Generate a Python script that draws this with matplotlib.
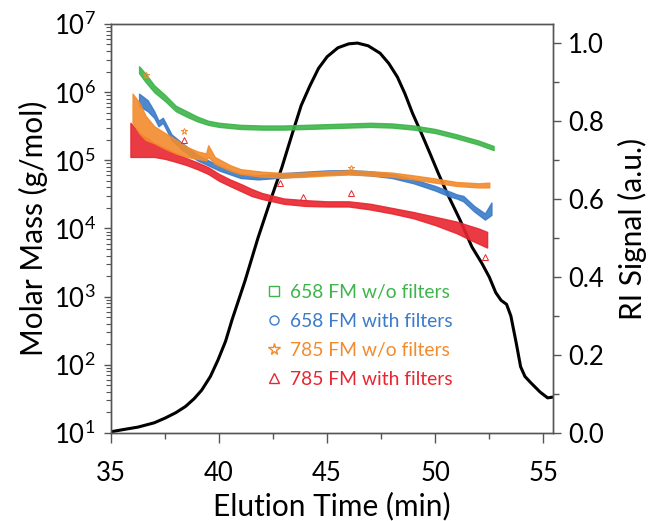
import numpy as np
import matplotlib
matplotlib.use("Agg")
from matplotlib import pyplot as plt
from matplotlib.lines import Line2D
from matplotlib.ticker import LogLocator, MultipleLocator, FixedLocator

plt.rcParams['font.family'] = ['Lato', 'DejaVu Sans']
plt.rcParams['mathtext.fontset'] = 'custom'
plt.rcParams['mathtext.rm'] = 'Lato'

# RI trace (right axis)
t_ri = [35.0, 35.5, 36.25, 37.0, 37.5, 38.0, 38.45, 38.85, 39.2, 39.6, 39.95, 40.3,
        40.6, 41.2, 41.8, 42.4, 42.9, 43.4, 43.8, 44.2, 44.6, 45.0, 45.5, 46.0, 46.4,
        46.9, 47.45, 47.85, 48.25, 48.6, 48.95, 49.35, 49.75, 50.15, 50.55, 51.15,
        51.7, 52.15, 52.5, 52.8, 53.05, 53.3, 53.5, 53.75, 53.95, 54.15, 54.4, 54.85,
        55.2, 55.45]
ri = [0.003, 0.008, 0.015, 0.026, 0.038, 0.052, 0.068, 0.088, 0.11, 0.145, 0.187, 0.235,
      0.29, 0.39, 0.50, 0.60, 0.68, 0.77, 0.84, 0.89, 0.935, 0.965, 0.988, 0.998, 1.0,
      0.993, 0.974, 0.948, 0.913, 0.87, 0.82, 0.77, 0.718, 0.665, 0.615, 0.546,
      0.477, 0.436, 0.40, 0.36, 0.34, 0.33, 0.30, 0.23, 0.17, 0.145, 0.13, 0.105,
      0.09, 0.092]

# molar mass bands (low / high edge of the marker cloud), g/mol
t_g = [36.3, 36.6, 37.0, 37.5, 38.0, 38.5, 39.0, 39.5, 40.0, 41.0, 42.0, 43.0, 44.0,
       45.0, 46.0, 47.0, 48.0, 49.0, 50.0, 51.0, 52.0, 52.7]
g_lo = [1.9e6, 1.41e6, 1.0e6, 7.4e5, 5.25e5, 4.37e5, 3.72e5, 3.31e5, 3.09e5, 2.88e5,
        2.82e5, 2.82e5, 2.88e5, 2.95e5, 3.02e5, 3.09e5, 3.02e5, 2.82e5, 2.51e5, 2.09e5,
        1.7e5, 1.41e5]
g_hi = [2.4e6, 1.86e6, 1.26e6, 9.1e5, 6.3e5, 5.25e5, 4.37e5, 3.8e5, 3.55e5, 3.31e5,
        3.24e5, 3.24e5, 3.31e5, 3.39e5, 3.47e5, 3.55e5, 3.47e5, 3.24e5, 2.88e5, 2.4e5,
        1.95e5, 1.62e5]

t_b = [36.3, 36.7, 37.0, 37.2, 37.4, 37.8, 38.3, 39.0, 40.0, 41.0, 41.8, 43.0, 44.0,
       45.0, 46.0, 47.0, 48.0, 49.0, 50.0, 50.6, 51.0, 51.3, 51.8, 52.3, 52.6]
b_lo = [6.3e5, 5.25e5, 4.2e5, 3.16e5, 3.55e5, 2.0e5, 1.41e5, 1.0e5, 7.1e4, 5.5e4,
        5.25e4, 5.6e4, 5.9e4, 6.2e4, 6.3e4, 6.0e4, 5.5e4, 4.6e4, 3.6e4, 3.0e4, 2.75e4,
        2.5e4, 1.78e4, 1.35e4, 1.58e4]
b_hi = [9.5e5, 7.6e5, 5.25e5, 3.8e5, 4.2e5, 2.4e5, 1.78e5, 1.2e5, 8.3e4, 6.3e4, 6.0e4,
        6.5e4, 6.8e4, 7.1e4, 7.2e4, 6.9e4, 6.3e4, 5.25e4, 4.2e4, 3.55e4, 3.16e4, 3.0e4,
        2.14e4, 1.66e4, 2.4e4]

t_o = [36.0, 36.3, 36.6, 37.0, 37.5, 38.0, 38.5, 39.0, 39.4, 39.5, 39.8, 40.5, 41.0,
       42.0, 43.0, 44.0, 45.0, 46.0, 47.0, 48.0, 49.0, 50.0, 51.0, 52.0, 52.5]
o_lo = [3.55e5, 2.51e5, 2.0e5, 1.78e5, 1.48e5, 1.26e5, 1.12e5, 1.05e5, 1.0e5, 1.12e5,
        8.9e4, 7.1e4, 6.3e4, 5.75e4, 5.6e4, 5.75e4, 6.0e4, 6.2e4, 6.0e4, 5.75e4, 5.25e4,
        4.7e4, 4.2e4, 4.0e4, 4.0e4]
o_hi = [9.5e5, 7.1e5, 4.5e5, 3.16e5, 2.51e5, 2.0e5, 1.58e5, 1.35e5, 1.26e5, 1.66e5,
        1.12e5, 8.5e4, 7.4e4, 6.8e4, 6.5e4, 6.6e4, 6.9e4, 7.1e4, 6.9e4, 6.6e4, 6.0e4,
        5.4e4, 4.8e4, 4.6e4, 4.7e4]

t_r = [35.9, 36.3, 37.0, 37.5, 38.0, 38.5, 39.0, 39.5, 40.0, 40.5, 41.0, 41.5, 42.0,
       43.0, 44.0, 45.0, 46.0, 47.0, 48.0, 49.0, 50.0, 51.0, 51.5, 52.0, 52.4]
r_lo = [1.12e5, 1.12e5, 1.12e5, 1.05e5, 9.5e4, 8.5e4, 7.4e4, 6.3e4, 5.0e4, 4.2e4, 3.55e4,
        3.0e4, 2.7e4, 2.3e4, 2.14e4, 2.1e4, 2.1e4, 1.9e4, 1.66e4, 1.41e4, 1.12e4, 8.5e3,
        7.1e3, 6.0e3, 5.25e3]
r_hi = [3.55e5, 2.51e5, 1.78e5, 1.51e5, 1.26e5, 1.07e5, 9.3e4, 7.9e4, 6.3e4, 5.25e4,
        4.5e4, 3.8e4, 3.3e4, 2.75e4, 2.6e4, 2.5e4, 2.5e4, 2.3e4, 2.0e4, 1.74e4, 1.48e4,
        1.26e4, 1.12e4, 1.0e4, 8.9e3]

# stray points outside the bands
out_o_t = [36.6, 38.4, 46.1]
out_o_m = [1.78e6, 2.7e5, 7.8e4]
out_r_t = [38.4, 42.8, 43.9, 46.1, 52.3]
out_r_m = [2.0e5, 4.7e4, 2.9e4, 3.3e4, 3.8e3]

labels = ['658 FM w/o filters', '658 FM with filters',
          '785 FM w/o filters', '785 FM with filters']
colors = ['#3db54a', '#3b7bc8', '#f38b2c', '#e8262f']
markers = ['s', 'o', '*', '^']

fig = plt.figure(figsize=(6.52, 5.21), dpi=100)
ax = fig.add_axes([0.1702, 0.169, 0.678, 0.785])
ax2 = ax.twinx()

ax.set_zorder(ax2.get_zorder() + 1)
ax.patch.set_visible(False)

bands = [(t_r, r_lo, r_hi, 3), (t_b, b_lo, b_hi, 1), (t_o, o_lo, o_hi, 2),
         (t_g, g_lo, g_hi, 0)]
for t, lo, hi, i in bands:
    ax.fill_between(t, lo, hi, color=colors[i], lw=1.0, alpha=0.9)

ax.plot(out_o_t, out_o_m, ls='none', marker='*', ms=5, mfc='none', mec=colors[2], mew=0.7)
ax.plot(out_r_t, out_r_m, ls='none', marker='^', ms=4, mfc='none', mec=colors[3], mew=0.7)

ax2.plot(t_ri, ri, color='black', lw=2.2, solid_capstyle='round')

ax.set_yscale('log')
ax.set_xlim(35, 55.45)
ax.set_ylim(10, 1e7)
ax2.set_ylim(0, 1.049)

ax.xaxis.set_major_locator(MultipleLocator(5))
ax.xaxis.set_minor_locator(MultipleLocator(2.5))
ax.yaxis.set_major_locator(LogLocator(base=10, numticks=10))
ax.yaxis.set_minor_locator(LogLocator(base=10, subs=np.arange(2, 10), numticks=10))
ax2.yaxis.set_major_locator(FixedLocator([0.0, 0.2, 0.4, 0.6, 0.8, 1.0]))
ax2.yaxis.set_minor_locator(MultipleLocator(0.1))
ax2.set_yticklabels(['0.0', '0.2', '0.4', '0.6', '0.8', '1.0'])

spine_c = '#555555'
for a in (ax, ax2):
    for s in a.spines.values():
        s.set_color(spine_c)
        s.set_linewidth(1.0)
ax.tick_params(axis='x', which='major', direction='out', length=7, width=1,
               color=spine_c, labelsize=18.5, pad=13)
ax.tick_params(axis='x', which='minor', direction='out', length=4.5, width=1, color=spine_c)
ax.tick_params(axis='y', which='major', direction='out', length=5, width=1,
               color=spine_c, labelsize=18.5, pad=6)
ax.tick_params(axis='y', which='minor', direction='out', length=3.5, width=0.8, color=spine_c)
ax2.tick_params(axis='y', which='major', direction='out', length=6, width=1,
                color=spine_c, labelsize=18.5, pad=5)
ax2.tick_params(axis='y', which='minor', direction='out', length=4.5, width=1, color=spine_c,
                labelright=False)

ax.set_xlabel('Elution Time (min)', fontsize=21.5, labelpad=4)
ax.set_ylabel('Molar Mass (g/mol)', fontsize=21.5, labelpad=4)
ax2.set_ylabel('RI Signal (a.u.)', fontsize=21.5, labelpad=10)

handles = [Line2D([], [], ls='none', marker=m, ms=8.5 if m == '*' else 6.5, mfc='none',
                  mec=c, mew=1.0) for m, c in zip(markers, colors)]
ax.legend(handles, labels, loc='upper left', bbox_to_anchor=(0.33, 0.383),
          frameon=False, fontsize=13.9, labelcolor=colors, handlelength=1.0,
          handletextpad=0.3, labelspacing=0.62, borderaxespad=0)

fig.savefig('out.png', dpi=100)
